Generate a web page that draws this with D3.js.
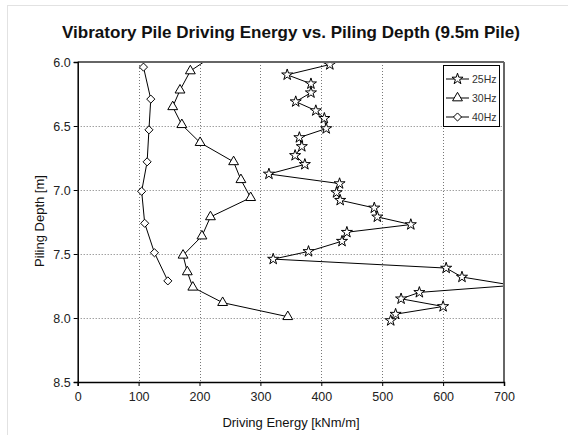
<!DOCTYPE html>
<html><head><meta charset="utf-8">
<script src="https://cdn.jsdelivr.net/npm/d3@7"></script>
<style>body{margin:0;background:#fff;}svg{display:block;font-family:"Liberation Sans",Arial,sans-serif;}</style>
</head><body>
<svg id="c" width="568" height="435"></svg>
<script>
const title = "Vibratory Pile Driving Energy vs. Piling Depth (9.5m Pile)";
const xLabel = "Driving Energy [kNm/m]";
const yLabel = "Piling Depth [m]";
const xTicks = [0,100,200,300,400,500,600,700];
const yTicks = [6.0,6.5,7.0,7.5,8.0,8.5];
const seriesNames = ["25Hz","30Hz","40Hz"];
const depth25 = [5.945,6.02,6.10,6.17,6.24,6.31,6.38,6.44,6.52,6.59,6.66,6.73,6.80,6.875,6.95,7.02,7.08,7.14,7.21,7.27,7.33,7.40,7.48,7.54,7.61,7.68,7.745,7.80,7.85,7.91,7.97,8.02];
const energy25 = [362,414,344,383,383,358,391,405,408,364,368,357,373,314,430,425,431,487,492,547,442,434,379,321,605,631,715,561,531,600,522,514];
const depth30 = [5.93,6.07,6.22,6.35,6.49,6.63,6.78,6.92,7.06,7.21,7.36,7.51,7.64,7.76,7.88,7.99];
const energy30 = [229,185,168,156,171,201,256,268,284,218,204,173,180,189,238,345];
const depth40 = [6.04,6.29,6.53,6.78,7.01,7.26,7.49,7.71];
const energy40 = [108,120,117,114,105,110,126,148];

const svg = d3.select("#c");
const L=77.7, R=504, T=62, B=382;
const x = d3.scaleLinear().domain([0,700]).range([L,R]);
const y = d3.scaleLinear().domain([6,8.5]).range([T,B]);

// faint figure frame
svg.append("rect").attr("x",7.5).attr("y",5.5).attr("width",700).attr("height",600)
  .attr("fill","none").attr("stroke","#e2e2e2");

svg.append("text").attr("x",291).attr("y",38).attr("text-anchor","middle")
  .attr("font-weight","bold").attr("font-size",16.5).attr("fill","#111")
  .attr("textLength",458).attr("lengthAdjust","spacingAndGlyphs").text(title);

svg.append("rect").attr("x",L).attr("y",T).attr("width",R-L).attr("height",B-T).attr("fill","#fff");

// grid
const g = svg.append("g");
g.selectAll(".gx").data(xTicks.slice(1,-1)).join("line")
  .attr("x1",d=>Math.round(x(d))+0.5).attr("x2",d=>Math.round(x(d))+0.5).attr("y1",T).attr("y2",B)
  .attr("stroke","#777").attr("stroke-dasharray","1,2");
g.selectAll(".gy").data(yTicks.slice(1,-1)).join("line")
  .attr("y1",d=>Math.round(y(d))+0.5).attr("y2",d=>Math.round(y(d))+0.5).attr("x1",L).attr("x2",R)
  .attr("stroke","#777").attr("stroke-dasharray","1,2");

// clip
svg.append("clipPath").attr("id","clip").append("rect").attr("x",L).attr("y",T).attr("width",R-L).attr("height",B-T);
const plot = svg.append("g").attr("clip-path","url(#clip)");

const series = [
  {name:seriesNames[0], d:depth25, e:energy25, sym:d3.symbolStar, size:38},
  {name:seriesNames[1], d:depth30, e:energy30, sym:d3.symbolTriangle, size:42},
  {name:seriesNames[2], d:depth40, e:energy40, sym:d3.symbolDiamond2, size:42}
];
const line = d3.line().x(p=>x(p[0])).y(p=>y(p[1]));
series.forEach(s=>{
  const pts = s.e.map((v,i)=>[v,s.d[i]]);
  plot.append("path").attr("d",line(pts)).attr("fill","none").attr("stroke","#000").attr("stroke-width",1);
  plot.selectAll(null).data(pts).join("path")
    .attr("transform",p=>`translate(${x(p[0])},${y(p[1])})`)
    .attr("d",d3.symbol(s.sym,s.size)).attr("fill","#fff").attr("stroke","#000").attr("stroke-width",1);
});

// frame top/right
svg.append("line").attr("x1",L).attr("x2",R).attr("y1",T).attr("y2",T).attr("stroke","#666").attr("stroke-width",2);
svg.append("line").attr("x1",R).attr("x2",R).attr("y1",T).attr("y2",B).attr("stroke","#666").attr("stroke-width",2);

// axes
const xa = svg.append("g").attr("transform",`translate(0,${B})`)
  .call(d3.axisBottom(x).tickValues(xTicks).tickFormat(d3.format("d")).tickSizeOuter(0).tickSize(4));
const ya = svg.append("g").attr("transform",`translate(${L},0)`)
  .call(d3.axisLeft(y).tickValues(yTicks).tickFormat(d3.format(".1f")).tickSizeOuter(0).tickSize(4));
[xa,ya].forEach(a=>{
  a.selectAll("text").attr("font-size",12.5).attr("fill","#222").attr("font-family","Liberation Sans, Arial, sans-serif");
  a.select(".domain").attr("stroke","#000").attr("stroke-width",1.5);
  a.selectAll(".tick line").attr("stroke","#000");
});
xa.selectAll("text").attr("dy","0.95em");

svg.append("text").attr("x",291).attr("y",427).attr("text-anchor","middle").attr("font-size",13).attr("fill","#111").text(xLabel);
svg.append("text").attr("transform","translate(44,221) rotate(-90)").attr("text-anchor","middle").attr("font-size",13).attr("fill","#111").text(yLabel);

// legend
const lg = svg.append("g");
lg.append("rect").attr("x",443.5).attr("y",65.5).attr("width",56).attr("height",61).attr("fill","#fff").attr("stroke","#000");
const ly = [79,98,117];
series.forEach((s,i)=>{
  lg.append("line").attr("x1",446).attr("x2",469).attr("y1",ly[i]).attr("y2",ly[i]).attr("stroke","#000");
  lg.append("path").attr("transform",`translate(457.5,${ly[i]})`).attr("d",d3.symbol(s.sym,s.size)).attr("fill","#fff").attr("stroke","#000");
  lg.append("text").attr("x",472).attr("y",ly[i]).attr("dy","0.35em").attr("font-size",10.5).attr("fill","#333").text(s.name);
});
</script>
</body></html>
